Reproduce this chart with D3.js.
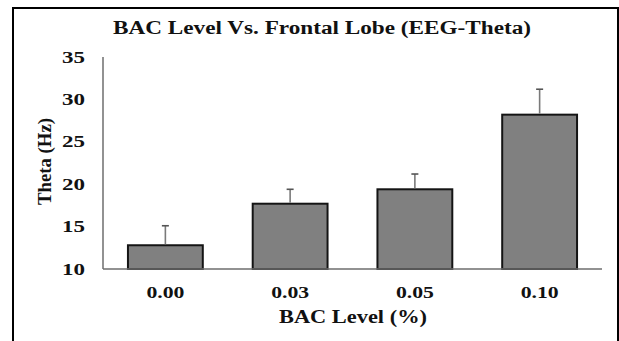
<!DOCTYPE html>
<html><head><meta charset="utf-8">
<script src="https://cdn.jsdelivr.net/npm/d3@7"></script>
<style>html,body{margin:0;padding:0;background:#fff;}svg{display:block;}</style>
</head><body>
<svg id="c" width="619" height="341"></svg>
<script>
const categories = ["0.00", "0.03", "0.05", "0.10"];
const means = [12.8, 17.7, 19.4, 28.2];
const errors = [2.3, 1.7, 1.8, 3.0];
const yTicks = [10, 15, 20, 25, 30, 35];
const title = "BAC Level Vs. Frontal Lobe (EEG-Theta)";
const xTitle = "BAC Level (%)";
const yTitle = "Theta (Hz)";

const svg = d3.select("#c");
const font = "'Liberation Serif','Times New Roman',serif";

svg.append("rect").attr("x", 13).attr("y", 8).attr("width", 605).attr("height", 345)
  .attr("fill", "#fff").attr("stroke", "#000").attr("stroke-width", 2);

const x = d3.scaleBand().domain(categories).range([103, 602]).paddingInner(0.4).paddingOuter(0.2);
const y = d3.scaleLinear().domain([10, 35]).range([269, 57]);

// bars
svg.selectAll("rect.bar").data(categories).join("rect").attr("class", "bar")
  .attr("x", d => x(d)).attr("width", x.bandwidth())
  .attr("y", (d, i) => y(means[i])).attr("height", (d, i) => y(10) - y(means[i]))
  .attr("fill", "#808080").attr("stroke", "#141414").attr("stroke-width", 2);

// error bars
const eb = svg.selectAll("g.eb").data(categories).join("g").attr("class", "eb");
eb.append("line")
  .attr("x1", d => x(d) + x.bandwidth() / 2).attr("x2", d => x(d) + x.bandwidth() / 2)
  .attr("y1", (d, i) => y(means[i]) - 1).attr("y2", (d, i) => y(means[i] + errors[i]))
  .attr("stroke", "#7a7a7a").attr("stroke-width", 1.6);
eb.append("line")
  .attr("x1", d => x(d) + x.bandwidth() / 2 - 3.5).attr("x2", d => x(d) + x.bandwidth() / 2 + 3.5)
  .attr("y1", (d, i) => y(means[i] + errors[i])).attr("y2", (d, i) => y(means[i] + errors[i]))
  .attr("stroke", "#555").attr("stroke-width", 1.6);

// axes lines
svg.append("line").attr("x1", 103).attr("x2", 103).attr("y1", y(35)).attr("y2", y(10))
  .attr("stroke", "#6e6e6e").attr("stroke-width", 1.5);
svg.append("line").attr("x1", 103).attr("x2", 602).attr("y1", y(10)).attr("y2", y(10))
  .attr("stroke", "#6e6e6e").attr("stroke-width", 1.5);

// y tick labels
svg.selectAll("text.yt").data(yTicks).join("text").attr("class", "yt")
  .attr("x", 85).attr("y", d => y(d) + 5.5).attr("text-anchor", "end")
  .attr("font-family", font).attr("font-weight", "bold").attr("font-size", 16.5)
  .attr("textLength", 23).attr("lengthAdjust", "spacingAndGlyphs")
  .attr("fill", "#111").text(d => d);

// x tick labels
svg.selectAll("text.xt").data(categories).join("text").attr("class", "xt")
  .attr("x", d => x(d) + x.bandwidth() / 2).attr("y", 297.5).attr("text-anchor", "middle")
  .attr("font-family", font).attr("font-weight", "bold").attr("font-size", 16.5)
  .attr("textLength", 38).attr("lengthAdjust", "spacingAndGlyphs")
  .attr("fill", "#111").text(d => d);

// titles
svg.append("text").attr("x", 322).attr("y", 34).attr("text-anchor", "middle")
  .attr("font-family", font).attr("font-weight", "bold").attr("font-size", 18.5)
  .attr("textLength", 418).attr("lengthAdjust", "spacingAndGlyphs")
  .attr("fill", "#111").text(title);
svg.append("text").attr("x", 353).attr("y", 323).attr("text-anchor", "middle")
  .attr("font-family", font).attr("font-weight", "bold").attr("font-size", 18.5)
  .attr("textLength", 148).attr("lengthAdjust", "spacingAndGlyphs")
  .attr("fill", "#111").text(xTitle);
svg.append("text").attr("transform", "translate(51,161.5) rotate(-90)").attr("text-anchor", "middle")
  .attr("font-family", font).attr("font-weight", "bold").attr("font-size", 18.5)
  .attr("textLength", 87).attr("lengthAdjust", "spacingAndGlyphs")
  .attr("fill", "#111").text(yTitle);
</script>
</body></html>
